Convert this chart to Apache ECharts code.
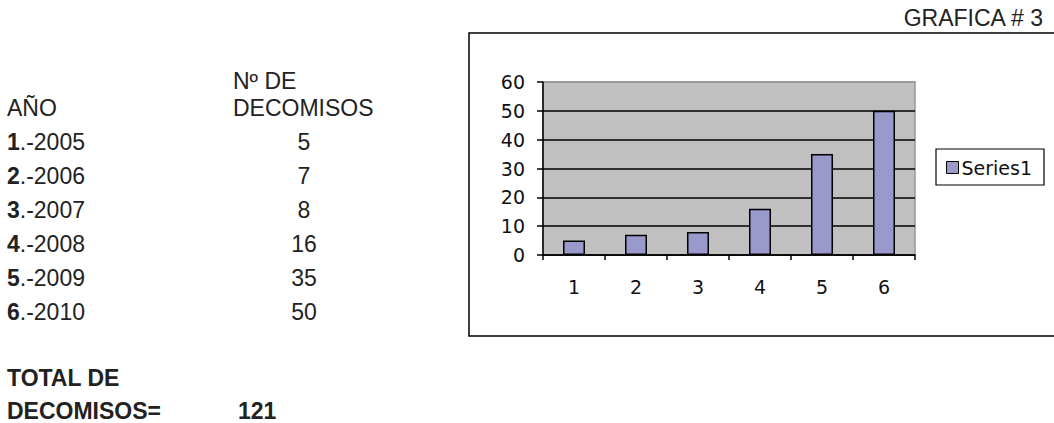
<!DOCTYPE html>
<html><head><meta charset="utf-8">
<script src="https://cdn.jsdelivr.net/npm/echarts@6/dist/echarts.min.js"></script>
<style>html,body{margin:0;padding:0;background:#fff}#c{width:1054px;height:423px}</style>
</head><body><div id="c"></div>
<script>
// ---- data ----
const categories = ['1', '2', '3', '4', '5', '6'];
const decomisos = [5, 7, 8, 16, 35, 50];
const years = ['2005', '2006', '2007', '2008', '2009', '2010'];
const yTicks = [0, 10, 20, 30, 40, 50, 60];
const totalDecomisos = 121;
const seriesName = 'Series1';
const chartTitle = 'GRAFICA # 3';

// ---- layout ----
const TXT = 'Liberation Sans, Arial, sans-serif';
const AX = 'DejaVu Sans, Tahoma, sans-serif';
const rowY0 = 141.5, rowStep = 34.1;

const chart = echarts.init(document.getElementById('c'), null, { renderer: 'svg' });

function txt(x, y, s, extra) {
  return { type: 'text', x: x, y: y, style: Object.assign({
    text: s, font: '23px ' + TXT, fill: '#222', verticalAlign: 'middle', lineHeight: 20 }, extra || {}) };
}

const graphics = [
  { type: 'rect', z: -10, shape: { x: 469, y: 33, width: 620, height: 303 },
    style: { fill: '#fff', stroke: '#000', lineWidth: 1.5 } },
  txt(1043, 18, chartTitle, { align: 'right' }),
  txt(7, 108, 'AÑO'),
  txt(233, 81, 'Nº DE'),
  txt(233, 108, 'DECOMISOS'),
  txt(7, 378, 'TOTAL DE', { font: 'bold 23px ' + TXT }),
  txt(7, 411, 'DECOMISOS=', { font: 'bold 23px ' + TXT }),
  txt(238, 411, String(totalDecomisos), { font: 'bold 23px ' + TXT })
];
years.forEach(function (yr, i) {
  const y = rowY0 + rowStep * i;
  graphics.push(txt(7, y, '{b|' + categories[i] + '}.-' + yr, {
    rich: { b: { fontWeight: 'bold', fontSize: 23, fontFamily: TXT, fill: '#222', lineHeight: 20 } } }));
  graphics.push(txt(304, y, String(decomisos[i]), { align: 'center' }));
});

chart.setOption({
  animation: false,
  backgroundColor: '#fff',
  graphic: graphics,
  legend: {
    data: [seriesName], left: 936, top: 149, orient: 'vertical',
    backgroundColor: '#fff', borderColor: '#000', borderWidth: 1.2,
    padding: [9, 12, 8, 10], itemWidth: 12, itemHeight: 12, itemGap: 0, icon: 'rect',
    itemStyle: { borderColor: '#000', borderWidth: 1 },
    textStyle: { fontFamily: AX, fontSize: 19, color: '#111', padding: [0, 0, 0, -2] }
  },
  grid: {
    left: 543, top: 82, width: 372, height: 173, show: true,
    backgroundColor: '#c0c0c0', borderColor: '#969696', borderWidth: 1.5
  },
  xAxis: {
    type: 'category', data: categories, boundaryGap: true,
    axisLine: { lineStyle: { color: '#000', width: 1.5 } },
    axisTick: { show: true, alignWithLabel: false, length: 5, lineStyle: { color: '#000', width: 1.5 } },
    axisLabel: { margin: 22, fontFamily: AX, fontSize: 19, color: '#111' },
    splitLine: { show: false }
  },
  yAxis: {
    type: 'value', min: yTicks[0], max: yTicks[yTicks.length - 1], interval: yTicks[1] - yTicks[0],
    axisLine: { show: true, lineStyle: { color: '#000', width: 1.5 } },
    axisTick: { show: true, length: 6, lineStyle: { color: '#000', width: 1.5 } },
    axisLabel: { margin: 18, fontFamily: AX, fontSize: 19, color: '#111' },
    splitLine: { show: true, lineStyle: { color: ['#000', '#000', '#000', '#000', '#000', '#000', '#969696'], width: 1.5 } }
  },
  series: [{
    name: seriesName, type: 'bar', data: decomisos, barWidth: 22,
    itemStyle: { color: '#9999cc', borderColor: '#000', borderWidth: 1.5 }
  }]
});
</script></body></html>
